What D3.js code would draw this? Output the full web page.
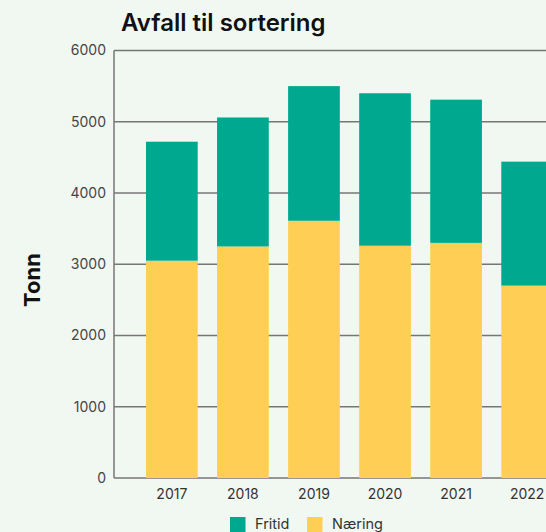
<!DOCTYPE html>
<html>
<head>
<meta charset="utf-8">
<script src="https://cdn.jsdelivr.net/npm/d3@7"></script>
<style>
  html, body { margin: 0; padding: 0; background: #f1f8f2; overflow: hidden; }
  svg { display: block; font-family: Inter, "Noto Sans", sans-serif; }
</style>
</head>
<body>
<svg id="chart" width="546" height="532"></svg>
<script>
// Waste sent to sorting, tonnes per year, split by source
const years = ["2017", "2018", "2019", "2020", "2021", "2022"];
const naering = [3050, 3250, 3610, 3260, 3300, 2700];
const fritid = [1670, 1810, 1890, 2140, 2010, 1740];
const yTicks = [0, 1000, 2000, 3000, 4000, 5000, 6000];
const seriesNames = ["Fritid", "Næring"];
const seriesColors = ["#00a88f", "#ffce55"];

const svg = d3.select("#chart");

const plot = { left: 114, right: 585, top: 50.5, bottom: 478 };

const x = d3.scaleBand()
  .domain(years)
  .range([plot.left, plot.right])
  .paddingInner(0.272)
  .paddingOuter(0.45);

const y = d3.scaleLinear()
  .domain([0, 6000])
  .range([plot.bottom, plot.top]);

// Horizontal gridlines
svg.append("g")
  .selectAll("line")
  .data(yTicks)
  .join("line")
  .attr("x1", plot.left)
  .attr("x2", 546)
  .attr("y1", d => y(d))
  .attr("y2", d => y(d))
  .attr("stroke", "#767676")
  .attr("stroke-width", 1.5);

// Left axis line
svg.append("line")
  .attr("x1", plot.left).attr("x2", plot.left)
  .attr("y1", y(6000)).attr("y2", y(0))
  .attr("stroke", "#767676")
  .attr("stroke-width", 1.5);

// Stacked bars: Næring at the bottom, Fritid on top
const rows = years.map((yr, i) => ({ year: yr, Næring: naering[i], Fritid: fritid[i] }));
const stack = d3.stack().keys(["Næring", "Fritid"]);
const layers = stack(rows);
const colorOf = { "Fritid": seriesColors[0], "Næring": seriesColors[1] };

svg.append("g")
  .selectAll("g")
  .data(layers)
  .join("g")
  .attr("fill", d => colorOf[d.key])
  .selectAll("rect")
  .data(d => d)
  .join("rect")
  .attr("x", d => x(d.data.year))
  .attr("width", x.bandwidth())
  .attr("y", d => y(d[1]))
  .attr("height", d => y(d[0]) - y(d[1]));

// Y tick labels
svg.append("g")
  .selectAll("text")
  .data(yTicks)
  .join("text")
  .attr("x", 106)
  .attr("y", d => y(d))
  .attr("dy", "0.35em")
  .attr("text-anchor", "end")
  .attr("font-size", 14)
  .attr("fill", "#444")
  .text(d => d);

// X tick labels
svg.append("g")
  .selectAll("text")
  .data(years)
  .join("text")
  .attr("x", d => x(d) + x.bandwidth() / 2)
  .attr("y", 494)
  .attr("dy", "0.35em")
  .attr("text-anchor", "middle")
  .attr("font-size", 14)
  .attr("fill", "#333")
  .text(d => d);

// Title
svg.append("text")
  .attr("x", 121)
  .attr("y", 31)
  .attr("font-size", 24)
  .attr("font-weight", 600)
  .attr("fill", "#111")
  .text("Avfall til sortering");

// Y axis title
svg.append("text")
  .attr("transform", "translate(40,280) rotate(-90)")
  .attr("text-anchor", "middle")
  .attr("font-size", 22)
  .attr("font-weight", 700)
  .attr("fill", "#111")
  .text("Tonn");

// Legend
const legend = svg.append("g");
const legendX = [230, 307];
seriesNames.forEach((name, i) => {
  legend.append("rect")
    .attr("x", legendX[i])
    .attr("y", 517)
    .attr("width", 15.5)
    .attr("height", 15.5)
    .attr("fill", seriesColors[i]);
  legend.append("text")
    .attr("x", legendX[i] + 25)
    .attr("y", 528.5)
    .attr("font-size", 14.5)
    .attr("fill", "#333")
    .text(name);
});
</script>
</body>
</html>
